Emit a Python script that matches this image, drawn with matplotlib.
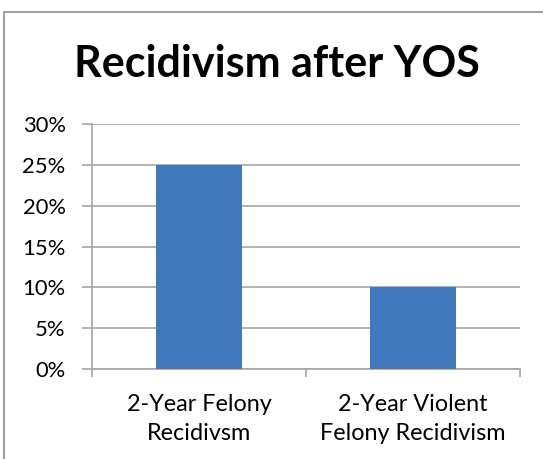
import matplotlib
matplotlib.use("Agg")
import matplotlib.pyplot as plt
from matplotlib.lines import Line2D
from matplotlib.ticker import PercentFormatter

# chart data
categories = ["2-Year Felony\nRecidivsm", "2-Year Violent\nFelony Recidivism"]
rates = [0.25, 0.10]
y_ticks = [0, 0.05, 0.10, 0.15, 0.20, 0.25, 0.30]

plt.rcParams['font.family'] = ['Lato', 'DejaVu Sans']

fig = plt.figure(figsize=(5.43, 4.59), dpi=100)
ax = fig.add_axes([92/543, 1 - 369/459, 428/543, 245/459])

grid_col = "#a6a6a6"
bar_col = "#4179bc"

x = list(range(len(categories)))
ax.bar(x, rates, width=0.4, color=bar_col, zorder=3)

ax.set_xlim(-0.5, len(categories) - 0.5)
ax.set_ylim(0, 0.30)
ax.set_yticks(y_ticks)
ax.yaxis.set_major_formatter(PercentFormatter(1.0, decimals=0))
ax.set_xticks([-0.5, 0.5, 1.5])
ax.set_xticklabels([])
ax.set_xticks(x, minor=True)
ax.set_xticklabels(categories, minor=True, fontsize=16.8, linespacing=1.45)
ax.tick_params(axis='x', which='minor', length=0, pad=18)
ax.tick_params(axis='x', which='major', length=6, width=1.2, color=grid_col, direction='out')
ax.tick_params(axis='y', length=7, width=1.2, color=grid_col, labelsize=15.8, pad=12)

ax.grid(axis='y', color=grid_col, linewidth=1.2, zorder=0)
for side in ['top', 'right']:
    ax.spines[side].set_visible(False)
for side in ['left', 'bottom']:
    ax.spines[side].set_color(grid_col)
    ax.spines[side].set_linewidth(1.2)

fig.text(276.5/543, 1 - 77/459, "Recidivism after YOS", ha='center', va='baseline',
         fontsize=31, fontweight='bold')

# outer chart border (only left and top visible in the crop)
fig.add_artist(Line2D([4/543, 4/543], [0, 1 - 12/459], color="#a0a0a0", linewidth=1.5,
                      transform=fig.transFigure))
fig.add_artist(Line2D([4/543, 1], [1 - 12/459, 1 - 12/459], color="#a0a0a0", linewidth=1.5,
                      transform=fig.transFigure))

fig.savefig("out.png", dpi=100)
